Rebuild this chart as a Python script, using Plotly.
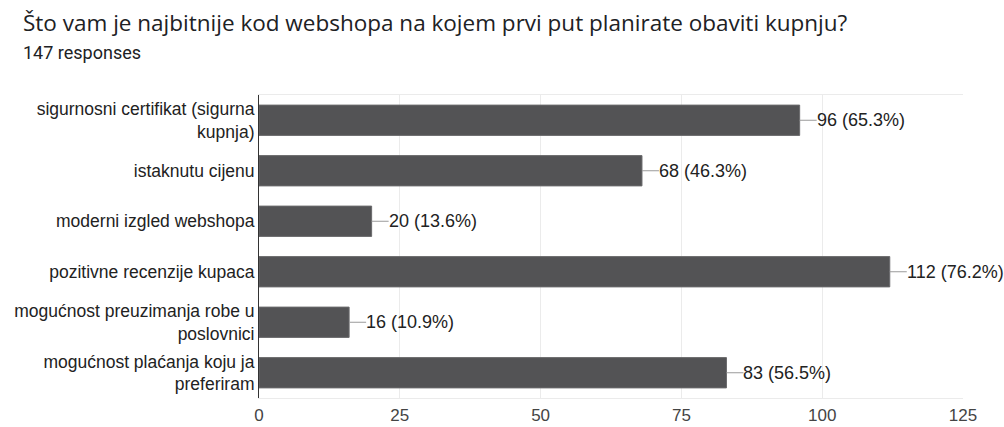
import plotly.graph_objects as go

categories = [
    "sigurnosni certifikat (sigurna<br>kupnja)",
    "istaknutu cijenu",
    "moderni izgled webshopa",
    "pozitivne recenzije kupaca",
    "mogućnost preuzimanja robe u<br>poslovnici",
    "mogućnost plaćanja koju ja<br>preferiram",
]
counts = [96, 68, 20, 112, 16, 83]
percents = ["65.3%", "46.3%", "13.6%", "76.2%", "10.9%", "56.5%"]
x_ticks = [0, 25, 50, 75, 100, 125]

title_text = "Što vam je najbitnije kod webshopa na kojem prvi put planirate obaviti kupnju?"
subtitle_text = "147 responses"

W, H = 1004, 427
L, R, T, B = 259, 41, 95, 29
FONT = "Liberation Sans, Arial, sans-serif"

fig = go.Figure()
fig.add_trace(go.Bar(
    x=counts, y=categories, orientation="h",
    marker=dict(color="#535355", line=dict(color="#6a6a6c", width=1)),
    width=0.6, hoverinfo="skip",
))

annotations = []
shapes = []
for c, cat, p in zip(counts, categories, percents):
    shapes.append(dict(
        type="line", xref="x", yref="y", xsizemode="pixel", xanchor=c,
        x0=0, x1=17, y0=cat, y1=cat,
        line=dict(color="#9a9a9a", width=1),
    ))
    annotations.append(dict(
        x=c, y=cat, xref="x", yref="y", text=f"{c} ({p})",
        showarrow=False, xanchor="left", xshift=15,
        font=dict(family=FONT, size=18, color="#222222"),
    ))

annotations.append(dict(
    x=0, y=1, xref="paper", yref="paper", xanchor="left", yanchor="middle",
    xshift=21 - L, yshift=(T - 22), text=title_text, showarrow=False,
    font=dict(family="Open Sans, Roboto, sans-serif", size=22.5, color="#202124"),
))
annotations.append(dict(
    x=0, y=1, xref="paper", yref="paper", xanchor="left", yanchor="middle",
    xshift=21 - L, yshift=(T - 52), text=subtitle_text, showarrow=False,
    font=dict(family="Roboto, sans-serif", size=18, color="#202124"),
))

fig.update_layout(
    width=W, height=H,
    margin=dict(l=L, r=R, t=T, b=B, pad=0, autoexpand=False),
    paper_bgcolor="white", plot_bgcolor="white",
    showlegend=False,
    annotations=annotations, shapes=shapes,
    bargap=0.4,
    xaxis=dict(
        range=[0, 125], tickvals=x_ticks, ticktext=[str(v) for v in x_ticks],
        showgrid=True, gridcolor="#ebebeb", gridwidth=1,
        zeroline=False, showline=True, linecolor="#ebebeb", mirror=True,
        ticks="", ticklabelstandoff=2, automargin=False,
        tickfont=dict(family=FONT, size=17, color="#444444"),
        fixedrange=True,
    ),
    yaxis=dict(
        autorange="reversed", showgrid=False, zeroline=False,
        showline=True, linecolor="#333333", linewidth=1,
        ticks="", ticklabelstandoff=0, automargin=False,
        tickfont=dict(family=FONT, size=17.5, color="#222222"),
        fixedrange=True,
    ),
)

fig.write_html(
    "out.html",
    config={"displayModeBar": False},
    post_script="document.body.style.margin='0';document.body.style.overflow='hidden';",
)
